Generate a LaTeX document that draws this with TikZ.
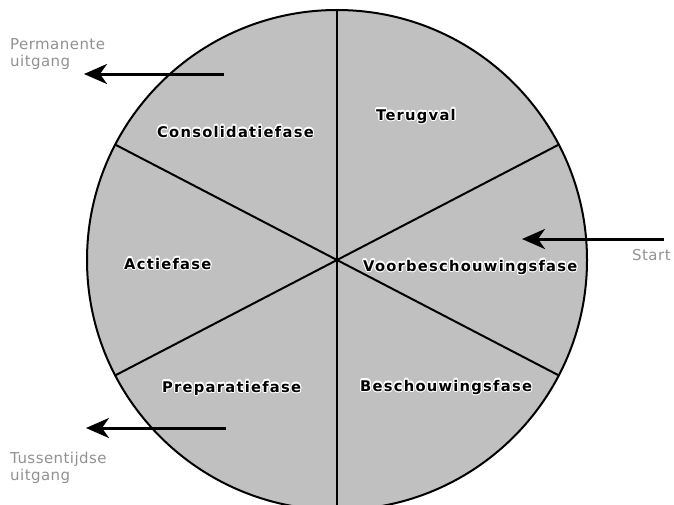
\documentclass[tikz,border=0pt]{standalone}
\usepackage{fontspec}
\setmainfont{DejaVu Sans}
\usepackage{contour}
\contourlength{1.1pt}
\usetikzlibrary{arrows.meta}
\definecolor{sectorgrey}{RGB}{192,192,192}
\definecolor{labelgrey}{RGB}{145,145,145}
\tikzset{
  phase/.style={anchor=base west,inner sep=0pt,text=black,
    font=\fontsize{14.7}{17}\selectfont\bfseries\addfontfeatures{LetterSpace=8.5}},
  outer/.style={anchor=base west,inner sep=0pt,text=labelgrey,align=left,
    font=\fontsize{15}{17}\selectfont\addfontfeatures{LetterSpace=3}},
  divider/.style={line width=2pt,black},
  rim/.style={line width=2pt,black,fill=sectorgrey},
  arr/.style={line width=3pt,black,-{Stealth[length=23pt,width=20pt,inset=7pt]}}
}
\begin{document}
\begin{tikzpicture}[x=1pt,y=-1pt]
\useasboundingbox (0,0) rectangle (674,504);
\clip (0,0) rectangle (674,504);
\coordinate (O) at (337,260);
\coordinate (top) at (337,10);
\coordinate (bot) at (337,510);
\coordinate (UL) at (115.2,144.6);
\coordinate (LR) at (558.8,375.4);
\coordinate (UR) at (558.8,144.6);
\coordinate (LL) at (115.2,375.4);
\draw[rim] (O) circle[radius=250pt];
\draw[divider] (top) -- (bot);
\draw[divider] (UL) -- (LR);
\draw[divider] (UR) -- (LL);
\node[phase] (terugval) at (376,120) {\contour{white}{Terugval}};
\node[phase] (consol) at (157,137) {\contour{white}{Consolidatiefase}};
\node[phase] (actie) at (124,269) {\contour{white}{Actiefase}};
\node[phase] (voorb) at (363,271) {\contour{white}{Voorbeschouwingsfase}};
\node[phase] (prep) at (162,392) {\contour{white}{Preparatiefase}};
\node[phase] (besch) at (360,391) {\contour{white}{Beschouwingsfase}};
\node[outer] (perm) at (10,66) {Permanente\\uitgang};
\node[outer] (tuss) at (10,480) {Tussentijdse\\uitgang};
\node[outer] (start) at (632,260) {Start};
\coordinate (p1) at (224,74);
\coordinate (p2) at (84,74);
\coordinate (t1) at (226,428);
\coordinate (t2) at (86,428);
\coordinate (s1) at (664,239);
\coordinate (s2) at (522,239);
\draw[arr] (p1) -- (p2);
\draw[arr] (t1) -- (t2);
\draw[arr] (s1) -- (s2);
\end{tikzpicture}
\end{document}
